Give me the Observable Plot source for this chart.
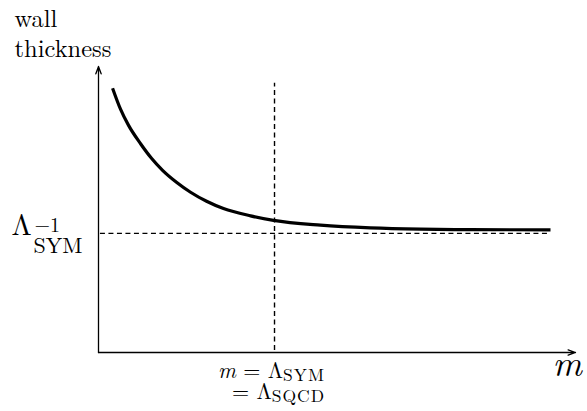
<!DOCTYPE html>
<html>
<head>
<meta charset="utf-8">
<script src="https://cdn.jsdelivr.net/npm/d3@7"></script>
<script src="https://cdn.jsdelivr.net/npm/@observablehq/plot@0.6"></script>
<style>
  html, body { margin: 0; padding: 0; background: #fff; }
</style>
</head>
<body>
<div id="chart"></div>
<script>
// ---- data (m in units of Λ_SYM, wall thickness in units of Λ_SYM^-1) ----
const mMax = 2.71;          // end of m axis
const wMax = 2.4;           // end of wall-thickness axis
const lambdaSym = 1;        // m = Λ_SYM = Λ_SQCD
const asymptote = 1;        // Λ_SYM^-1
const mCurve = [0.080, 0.125, 0.170, 0.239, 0.301, 0.364, 0.443, 0.523, 0.614, 0.710, 0.864, 0.994, 1.261, 1.545, 1.830, 2.114, 2.568];
const wCurve = [2.218, 2.042, 1.908, 1.752, 1.630, 1.529, 1.429, 1.345, 1.269, 1.208, 1.147, 1.109, 1.069, 1.046, 1.035, 1.031, 1.029];
const hDashExtent = [0.011, 2.557];
const vDashExtent = [0.017, 2.26];

const curve = mCurve.map((m, i) => ({m, w: wCurve[i]}));

const cm = "Latin Modern Roman";

const plot = Plot.plot({
  width: 587,
  height: 411,
  marginLeft: 98,
  marginRight: 12,
  marginTop: 66,
  marginBottom: 59,
  x: {domain: [0, mMax], axis: null},
  y: {domain: [0, wMax], axis: null},
  style: {background: "white", overflow: "visible", color: "black", fontFamily: cm},
  marks: [
    // axes with arrow heads
    Plot.arrow([{x1: 0, y1: 0, x2: mMax, y2: 0}], {
      x1: "x1", y1: "y1", x2: "x2", y2: "y2",
      stroke: "black", strokeWidth: 1.3, headLength: 9, headAngle: 40
    }),
    Plot.arrow([{x1: 0, y1: 0, x2: 0, y2: wMax}], {
      x1: "x1", y1: "y1", x2: "x2", y2: "y2",
      stroke: "black", strokeWidth: 1.3, headLength: 9, headAngle: 40
    }),
    // dashed guides
    Plot.ruleY([asymptote], {
      x1: hDashExtent[0], x2: hDashExtent[1],
      stroke: "black", strokeWidth: 1.4, strokeDasharray: "5,3.5"
    }),
    Plot.ruleX([lambdaSym], {
      y1: vDashExtent[0], y2: vDashExtent[1],
      stroke: "black", strokeWidth: 1.4, strokeDasharray: "5,3.5"
    }),
    // wall thickness curve
    Plot.line(curve, {
      x: "m", y: "w", curve: "monotone-x",
      stroke: "black", strokeWidth: 3.2, strokeLinecap: "butt"
    }),
    // y axis label
    Plot.text([0], {
      x: () => 0, y: () => wMax, text: () => "wall\nthickness",
      textAnchor: "start", lineAnchor: "bottom", lineHeight: 1.2,
      dx: -84, dy: -10, fontSize: 24.5, fontFamily: cm, fill: "black"
    }),
    // Λ_SYM^-1 label
    Plot.text([0], {
      x: () => 0, y: () => asymptote, text: () => "Λ",
      textAnchor: "start", lineAnchor: "bottom", dx: -87, dy: 2, fontSize: 29, fontFamily: cm, fill: "black"
    }),
    Plot.text([0], {
      x: () => 0, y: () => asymptote, text: () => "−1",
      textAnchor: "start", lineAnchor: "bottom", dx: -64, dy: -1, fontSize: 20, fontFamily: cm, fill: "black"
    }),
    Plot.text([0], {
      x: () => 0, y: () => asymptote, text: () => "SYM",
      textAnchor: "start", lineAnchor: "bottom", dx: -65, dy: 20, fontSize: 22, fontFamily: cm, fill: "black"
    }),
    // m = Λ_SYM = Λ_SQCD label
    Plot.text([0], {
      x: () => lambdaSym, y: () => 0, text: () => "m = ΛSYM",
      textAnchor: "middle", lineAnchor: "bottom", dx: -3, dy: 25, fontSize: 22, fontFamily: cm, fill: "black"
    }),
    Plot.text([0], {
      x: () => lambdaSym, y: () => 0, text: () => "= ΛSQCD",
      textAnchor: "middle", lineAnchor: "bottom", dx: 4, dy: 46, fontSize: 22, fontFamily: cm, fill: "black"
    }),
    // m axis label
    Plot.text([0], {
      x: () => mMax, y: () => 0, text: () => "m",
      textAnchor: "start", lineAnchor: "bottom", dx: -23, dy: 23,
      fontSize: 36, fontStyle: "italic", fontFamily: cm, fill: "black"
    })
  ]
});

// rich text: italic variables, subscripts
const RICH = {
  "m = ΛSYM": [
    {t: "m", italic: true},
    {t: " = Λ"},
    {t: "SYM", size: 17.5, shift: 3, ls: 1}
  ],
  "= ΛSQCD": [
    {t: "= Λ"},
    {t: "SQCD", size: 17.5, shift: 3, ls: 1}
  ]
};
d3.select(plot).selectAll("text").each(function () {
  const segs = RICH[this.textContent];
  if (!segs) return;
  const t = d3.select(this);
  t.text(null);
  let cur = 0;
  for (const s of segs) {
    const ts = t.append("tspan").text(s.t);
    if (s.size) ts.attr("font-size", s.size);
    if (s.italic) ts.attr("font-style", "italic");
    if (s.ls) ts.attr("letter-spacing", s.ls);
    const shift = s.shift || 0;
    if (shift !== cur) { ts.attr("dy", shift - cur); cur = shift; }
  }
});

document.getElementById("chart").appendChild(plot);
</script>
</body>
</html>
